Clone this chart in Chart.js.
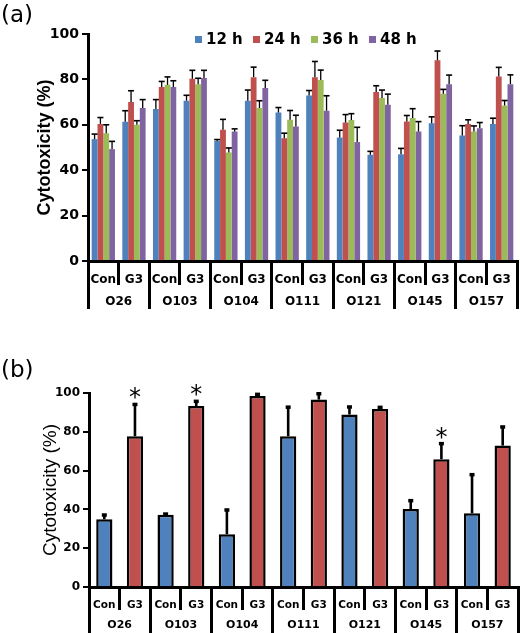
<!DOCTYPE html>
<html>
<head>
<meta charset="utf-8">
<script src="https://cdn.jsdelivr.net/npm/chart.js@4.4.1/dist/chart.umd.min.js"></script>
<style>
  body { margin: 0; background: #fff; }
  #page { position: relative; width: 520px; height: 633px; overflow: hidden; }
  .panel { position: absolute; left: 0; width: 520px; }
  .tag { position: absolute; left: 1px; font: 23px "DejaVu Sans"; line-height: 26px; color: #000; }
  .leg { position: absolute; top: 30px; font: bold 15px "DejaVu Sans"; line-height: 18px; color: #000; white-space: nowrap; }
  .leg i { display: inline-block; width: 7px; height: 7px; margin-right: 4px; vertical-align: 1px; }
</style>
</head>
<body>
<div id="page">
  <div class="panel" style="top:0;height:315px"><canvas id="chartA"></canvas></div>
  <div class="panel" style="top:318px;height:315px"><canvas id="chartB"></canvas></div>
  <div class="tag" style="top:1px">(a)</div>
  <div class="tag" style="top:356px">(b)</div>
  <div id="legendA"></div>
</div>
<script>
// strains and treatments (x axis, two rows)
var groups = ['O26', 'O103', 'O104', 'O111', 'O121', 'O145', 'O157'];
var treatments = ['Con', 'G3'];

// panel (a) : cytotoxicity over time, bars ordered O26 Con, O26 G3, O103 Con ...
var seriesNames = ['12 h', '24 h', '36 h', '48 h'];
var v12 = [53.7, 61.3, 67.0, 70.6, 52.9, 70.6, 65.4, 72.9, 54.4, 46.8, 47.0, 60.7, 55.3, 60.3];
var e12 = [2.2, 4.9, 4.1, 2.4, 0.6, 4.7, 2.2, 2.2, 3.2, 1.5, 2.6, 2.8, 4.3, 2.6];
var v24 = [60.4, 70.0, 76.6, 80.3, 57.8, 81.0, 54.1, 81.0, 61.0, 74.4, 61.5, 88.4, 60.3, 81.3];
var e24 = [2.8, 5.0, 2.5, 3.7, 4.6, 4.4, 2.2, 6.9, 3.5, 2.8, 2.6, 4.1, 1.9, 4.0];
var v36 = [56.3, 60.0, 77.6, 77.9, 47.8, 67.4, 62.2, 79.7, 62.1, 71.8, 63.0, 73.7, 57.0, 68.5];
var e36 = [3.7, 1.8, 3.5, 2.6, 2.0, 3.2, 4.1, 4.4, 2.8, 3.5, 4.1, 1.9, 2.5, 2.2];
var v48 = [49.3, 67.4, 76.6, 80.6, 57.0, 76.2, 59.3, 66.2, 52.4, 68.8, 57.0, 77.9, 58.5, 77.9];
var e48 = [3.4, 3.7, 2.8, 3.4, 1.2, 3.4, 4.9, 6.6, 6.5, 4.7, 4.4, 4.0, 2.5, 4.1];

// panel (b)
var valuesB = [34.9, 77.7, 37.2, 93.3, 27.2, 98.5, 77.7, 96.6, 88.9, 91.8, 40.2, 65.9, 38.0, 72.9];
var errorsB = [2.2, 16.4, 0.4, 2.4, 12.5, 0.8, 15.0, 3.0, 3.9, 0.8, 4.3, 8.0, 19.9, 9.6];
var starredB = [1, 3, 11];

var yTicks = [0, 20, 40, 60, 80, 100];

var seriesColors = ['#4F81BD', '#C0504D', '#9BBB59', '#8064A2'];
var treatColors = { Con: '#4F81BD', G3: '#C0504D' };

var subLabels = [];
groups.forEach(function () { treatments.forEach(function (t) { subLabels.push(t); }); });

Chart.defaults.font.family = 'DejaVu Sans';
Chart.defaults.color = '#000';

// upper error bars (and significance stars) drawn from the y scale
var errorBars = {
  id: 'errorBars',
  afterDatasetsDraw: function (chart, args, opts) {
    var ctx = chart.ctx, y = chart.scales.y;
    chart.data.datasets.forEach(function (ds, i) {
      if (!ds.errors) return;
      chart.getDatasetMeta(i).data.forEach(function (bar, j) {
        var top = y.getPixelForValue(ds.data[j] + ds.errors[j]);
        ctx.save();
        ctx.strokeStyle = '#000';
        ctx.lineWidth = opts.width;
        ctx.beginPath();
        ctx.moveTo(bar.x, bar.y);
        ctx.lineTo(bar.x, top);
        ctx.stroke();
        ctx.lineWidth = opts.capWidth;
        ctx.beginPath();
        ctx.moveTo(bar.x - opts.cap, top);
        ctx.lineTo(bar.x + opts.cap, top);
        ctx.stroke();
        if (ds.stars && ds.stars.indexOf(j) >= 0) {
          ctx.fillStyle = '#000';
          ctx.font = '24px "DejaVu Sans"';
          ctx.textAlign = 'center';
          ctx.textBaseline = 'alphabetic';
          ctx.fillText('*', bar.x, top + 1);
        }
        ctx.restore();
      });
    });
  }
};

function scales(o) {
  return {
    y: {
      min: 0, max: 100,
      afterBuildTicks: function (s) { s.ticks = yTicks.map(function (v) { return { value: v }; }); },
      ticks: { padding: 3, color: '#000', font: { weight: 'bold', size: o.tick } },
      grid: { drawOnChartArea: false, tickLength: 6, color: '#000', lineWidth: 2 },
      border: { color: '#000', width: 3 },
      title: { display: true, text: 'Cytotoxicity (%)', color: '#000', font: o.titleFont,
               padding: { top: o.titlePad, bottom: 0 } },
      afterFit: function (s) { s.width = o.left; }
    },
    x: {
      offset: true,
      grid: { offset: true, drawOnChartArea: false, tickLength: o.row1, color: '#000', lineWidth: 3 },
      border: { color: '#000', width: 3 },
      ticks: { autoSkip: false, maxRotation: 0, padding: o.pad1, color: '#000', font: { weight: 'bold', size: o.sub } },
      afterFit: function (s) { s.height = o.row1; }
    },
    x2: {
      type: 'category', labels: groups, position: 'bottom', weight: 1, offset: true,
      grid: { offset: true, drawOnChartArea: false, tickLength: o.row2, color: '#000', lineWidth: 3 },
      border: { display: false },
      ticks: { autoSkip: false, maxRotation: 0, padding: o.pad2, color: '#000', font: { weight: 'bold', size: o.grp } },
      afterFit: function (s) { s.height = o.row2; }
    }
  };
}

// panel (a)
var valsA = [v12, v24, v36, v48];
var errsA = [e12, e24, e36, e48];
new Chart(document.getElementById('chartA'), {
  type: 'bar',
  data: {
    labels: subLabels,
    datasets: seriesNames.map(function (name, i) {
      return { label: name, data: valsA[i], errors: errsA[i], backgroundColor: seriesColors[i],
               barPercentage: 1, categoryPercentage: 0.76 };
    })
  },
  options: {
    responsive: true, maintainAspectRatio: false, animation: false, events: [],
    layout: { padding: { top: 34, right: 3, bottom: 6, left: 0 } },
    plugins: { legend: { display: false }, tooltip: { enabled: false },
               errorBars: { width: 1.3, capWidth: 1.6, cap: 3 } },
    scales: scales({ tick: 14, sub: 12, grp: 12, left: 88, titlePad: 34,
                     titleFont: { family: 'Liberation Sans', weight: 'bold', size: 18 },
                     row1: 24, pad1: -12, row2: 24, pad2: -14 })
  },
  plugins: [errorBars]
});

// legend for panel (a)
var leg = document.getElementById('legendA');
seriesNames.forEach(function (name, i) {
  var d = document.createElement('div');
  d.className = 'leg';
  d.style.left = (195 + 58 * i) + 'px';
  d.innerHTML = '<i style="background:' + seriesColors[i] + '"></i>' + name;
  leg.appendChild(d);
});

// panel (b)
new Chart(document.getElementById('chartB'), {
  type: 'bar',
  data: {
    labels: subLabels,
    datasets: [{
      label: 'Cytotoxicity', data: valuesB, errors: errorsB, stars: starredB,
      backgroundColor: subLabels.map(function (t) { return treatColors[t]; }),
      borderColor: '#000', borderWidth: 2.5, barPercentage: 0.53, categoryPercentage: 1
    }]
  },
  options: {
    responsive: true, maintainAspectRatio: false, animation: false, events: [],
    layout: { padding: { top: 75, right: 2, bottom: 0, left: 0 } },
    plugins: { legend: { display: false }, tooltip: { enabled: false },
               errorBars: { width: 2.6, capWidth: 3.5, cap: 2.5 } },
    scales: scales({ tick: 12, sub: 10.5, grp: 11, left: 89, titlePad: 39,
                     titleFont: { family: 'Liberation Sans', weight: 'normal', size: 19 },
                     row1: 23, pad1: -11, row2: 23, pad2: -14 })
  },
  plugins: [errorBars]
});
</script>
</body>
</html>
